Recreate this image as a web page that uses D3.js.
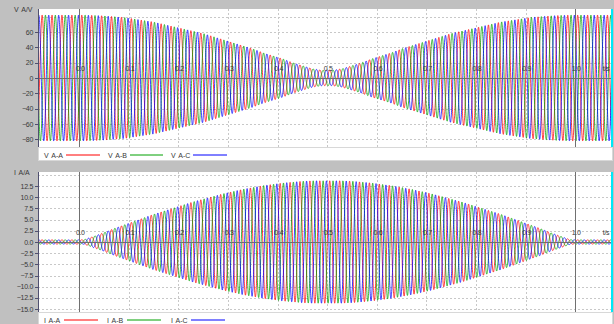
<!DOCTYPE html>
<html>
<head>
<meta charset="utf-8">
<script src="https://cdn.jsdelivr.net/npm/d3@7"></script>
<style>
  body { margin: 0; background: #c0c0c0; }
  svg { display: block; }
  text { font-family: "Liberation Sans", Arial, sans-serif; font-size: 7px; fill: #383838; letter-spacing: -0.3px; }
  text.title, text.legend { letter-spacing: 0; word-spacing: 1px; }
</style>
</head>
<body>
<svg id="chart" width="614" height="324"></svg>
<script>
// ---- data ----
const mainsFrequency = 50;            // Hz
const recordStart = -0.08;            // s, start of the first recorded cycle
const timeDomain = [-0.0833, 1.0762]; // s, visible window
const timeTicks = [0.0, 0.1, 0.2, 0.3, 0.4, 0.5, 0.6, 0.7, 0.8, 0.9, 1.0];
const timeTickLabels = ["0.0", "0.1", "0.2", "0.3", "0.4", "0.5", "0.6", "0.7", "0.8", "0.9", "1.0"];

const phaseNames = ["A", "B", "C"];
const phaseAngles = [0, -120, 120];   // degrees
const phaseColors = ["#ff0000", "#00a000", "#0000ff"];

// Peak voltage of each mains cycle (V), one value per 20 ms cycle
const voltagePeaks = [
  82, 82, 82, 82,
  82, 81.6, 81, 80, 79, 77, 75, 73, 70, 67, 64, 61, 58, 54, 50, 46, 42, 38, 33, 29, 25, 20, 16, 12, 10,
  10, 12, 16, 20, 25, 29, 33, 38, 42, 46, 50, 54, 58, 61, 64, 67, 70, 73, 75, 77, 79, 80, 81, 81.6, 82,
  82, 82, 82, 82
];
// Peak current of each mains cycle (A)
const currentPeaks = [
  0.45, 0.45, 0.45, 0.45,
  0.5, 1.3, 2.1, 3.0, 3.8, 4.6, 5.4, 6.2, 6.9, 7.6, 8.3, 9.0, 9.6, 10.2, 10.8, 11.3, 11.8, 12.2, 12.6, 12.9, 13.2, 13.4, 13.6, 13.7, 13.7,
  13.7, 13.7, 13.6, 13.4, 13.2, 12.9, 12.6, 12.2, 11.8, 11.3, 10.8, 10.2, 9.6, 9.0, 8.3, 7.6, 6.9, 6.2, 5.4, 4.6, 3.8, 3.0, 2.1, 1.3, 0.5,
  0.45, 0.45, 0.45, 0.45
];

const voltageTicks = [-80, -60, -40, -20, 0, 20, 40, 60];
const voltageGrid = [-80, -60, -40, -20, 20, 40, 60, 80];
const voltageDomain = [-90, 90];
const currentTicks = [-15, -12.5, -10, -7.5, -5, -2.5, 0, 2.5, 5, 7.5, 10, 12.5];
const currentGrid = [-15, -12.5, -10, -7.5, -5, -2.5, 2.5, 5, 7.5, 10, 12.5, 15];
const currentDomain = [-15.67, 15.67];

// ---- layout ----
const svg = d3.select("#chart");
const plotLeft = 38, plotRight = 613;

const x = d3.scaleLinear().domain(timeDomain).range([plotLeft, plotRight]);

const panels = [
  {
    id: "v", title: "V A/V", legendPrefix: "V A-", peaks: voltagePeaks,
    domain: voltageDomain, ticks: voltageTicks, grid: voltageGrid, fmt: d3.format("d"),
    top: 9, bottom: 147, legendBottom: 161,
    legendText: [44, 108, 171], legendLine: [[66, 100], [130, 163], [193, 227]]
  },
  {
    id: "i", title: "I A/A", legendPrefix: "I A-", peaks: currentPeaks,
    domain: currentDomain, ticks: currentTicks, grid: currentGrid, fmt: d3.format(".1f"),
    top: 172, bottom: 312, legendBottom: 326,
    legendText: [44, 107, 171], legendLine: [[64, 98], [127, 161], [191, 225]]
  }
];

// cycle centres, used to follow the peak envelope between cycles
function envelope(peaks) {
  const centres = peaks.map((_, k) => recordStart + (k + 0.5) / mainsFrequency);
  return d3.scaleLinear().domain(centres).range(peaks).clamp(true);
}

const sampleTimes = d3.range(timeDomain[0], timeDomain[1] + 0.0002, 0.0002);

panels.forEach(p => {
  const y = d3.scaleLinear().domain(p.domain).range([p.bottom, p.top]);
  const g = svg.append("g").attr("class", "panel-" + p.id);

  // plot area
  g.append("rect").attr("x", plotLeft).attr("y", p.top)
    .attr("width", plotRight - plotLeft).attr("height", p.bottom - p.top)
    .attr("fill", "#ffffff");

  // grid
  const grid = g.append("g").attr("shape-rendering", "crispEdges")
    .attr("stroke", "#c8c8c8").attr("stroke-dasharray", "2,2").attr("stroke-width", 1);
  grid.selectAll("line.gx").data(timeTicks.filter(t => t > 0 && t < 1)).join("line")
    .attr("class", "gx")
    .attr("x1", d => Math.round(x(d)) + 0.5).attr("x2", d => Math.round(x(d)) + 0.5)
    .attr("y1", p.top).attr("y2", p.bottom);
  grid.selectAll("line.gy").data(p.grid).join("line")
    .attr("class", "gy")
    .attr("x1", plotLeft).attr("x2", plotRight)
    .attr("y1", d => Math.round(y(d)) + 0.5).attr("y2", d => Math.round(y(d)) + 0.5);

  // waveforms
  const clipId = "clip-" + p.id;
  svg.append("clipPath").attr("id", clipId).append("rect")
    .attr("x", plotLeft).attr("y", p.top)
    .attr("width", plotRight - plotLeft).attr("height", p.bottom - p.top);
  const env = envelope(p.peaks);
  const line = d3.line().x(d => x(d[0])).y(d => y(d[1]));
  const waves = g.append("g").attr("clip-path", `url(#${clipId})`);
  phaseNames.forEach((name, i) => {
    const phi = phaseAngles[i] * Math.PI / 180;
    const series = sampleTimes.map(t => [t, env(t) * Math.sin(2 * Math.PI * mainsFrequency * t + phi)]);
    waves.append("path").datum(series)
      .attr("fill", "none").attr("stroke", phaseColors[i]).attr("stroke-width", 0.75)
      .attr("d", line);
  });

  // time axis (y = 0) and markers at 0 s and 1 s
  const axes = g.append("g").attr("shape-rendering", "crispEdges");
  axes.append("line")
    .attr("x1", plotLeft).attr("x2", plotRight)
    .attr("y1", Math.round(y(0)) + 0.5).attr("y2", Math.round(y(0)) + 0.5)
    .attr("stroke", "#707070");
  axes.selectAll("line.mark").data([0, 1]).join("line")
    .attr("class", "mark")
    .attr("x1", d => Math.round(x(d)) + 0.5).attr("x2", d => Math.round(x(d)) + 0.5)
    .attr("y1", p.top).attr("y2", p.bottom)
    .attr("stroke", "#707070");

  // time labels sit just above the zero line
  g.selectAll("text.tx").data(timeTicks).join("text")
    .attr("class", "tx")
    .attr("x", d => x(d) + 1).attr("y", y(0) - 7)
    .attr("text-anchor", "middle")
    .text((d, i) => timeTickLabels[i]);
  g.append("text").attr("x", 606).attr("y", y(0) - 7).attr("text-anchor", "middle").text("t/s");

  // value axis
  const yAxis = g.append("g").attr("shape-rendering", "crispEdges");
  yAxis.append("line").attr("x1", plotLeft + 0.5).attr("x2", plotLeft + 0.5)
    .attr("y1", p.top).attr("y2", p.bottom).attr("stroke", "#505070");
  yAxis.selectAll("line.tk").data(p.ticks).join("line")
    .attr("class", "tk")
    .attr("x1", plotLeft - 3).attr("x2", plotLeft)
    .attr("y1", d => Math.round(y(d)) + 0.5).attr("y2", d => Math.round(y(d)) + 0.5)
    .attr("stroke", "#505070");
  g.selectAll("text.ty").data(p.ticks).join("text")
    .attr("class", "ty")
    .attr("x", 33).attr("y", d => y(d) + 2.5)
    .attr("text-anchor", "end")
    .text(d => p.fmt(d));
  g.append("text").attr("class", "title").attr("x", 14).attr("y", p.top + 3).text(p.title);

  // cursor at the right edge
  g.append("line").attr("x1", 612).attr("x2", 612)
    .attr("y1", p.top).attr("y2", p.bottom)
    .attr("stroke", "#00e8f8").attr("stroke-width", 2);

  // legend
  const lg = g.append("g");
  lg.append("rect").attr("x", plotLeft + 0.5).attr("y", p.bottom + 0.5)
    .attr("width", plotRight - plotLeft - 1).attr("height", p.legendBottom - p.bottom - 1)
    .attr("fill", "#ffffff").attr("stroke", "#d8d8d8");
  const ly = (p.bottom + p.legendBottom) / 2 + 1;
  phaseNames.forEach((name, i) => {
    lg.append("text").attr("class", "legend").attr("x", p.legendText[i]).attr("y", ly + 2.5).text(p.legendPrefix + name);
    lg.append("line")
      .attr("x1", p.legendLine[i][0]).attr("x2", p.legendLine[i][1])
      .attr("y1", Math.round(ly)).attr("y2", Math.round(ly))
      .attr("stroke", phaseColors[i]).attr("stroke-width", 1);
  });
});
</script>
</body>
</html>
